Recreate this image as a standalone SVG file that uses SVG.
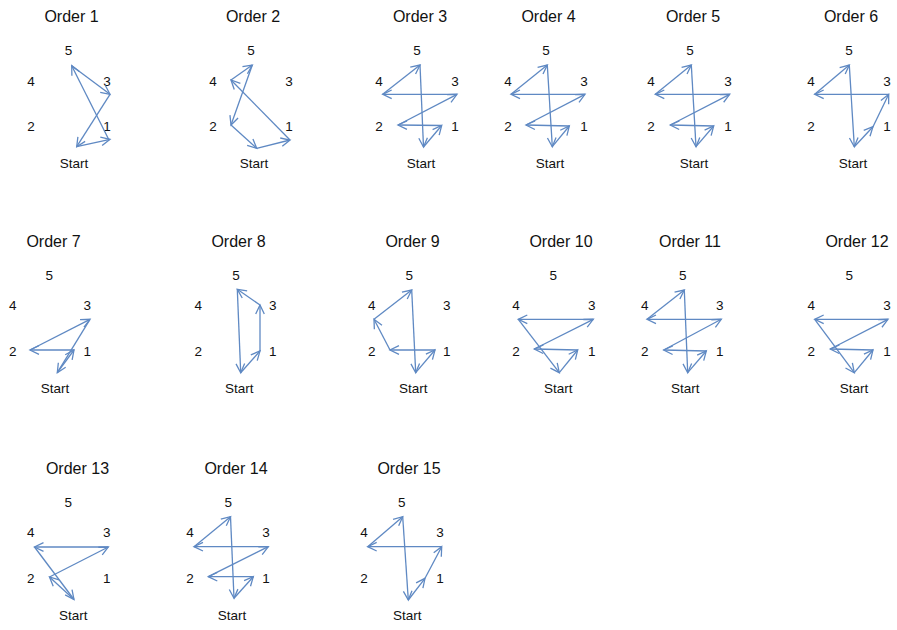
<svg xmlns="http://www.w3.org/2000/svg" width="897" height="630" viewBox="0 0 897 630">
<style>
text{font-family:"Liberation Sans",Arial,sans-serif;fill:#111}
.t{font-size:16px;text-anchor:middle}
.n{font-size:13.5px;text-anchor:middle}
.c line{stroke:#5f89c3;stroke-width:1.3;fill:none;marker-end:url(#ah)}
</style>
<defs>
<marker id="ah" viewBox="-11 -7 13 14" refX="0" refY="0" markerWidth="13" markerHeight="14" markerUnits="userSpaceOnUse" orient="auto">
<path d="M-9,-4.3 L0,0 L-9,4.3" fill="none" stroke="#5f89c3" stroke-width="1.3"/>
</marker>
</defs>
<rect width="897" height="630" fill="#fff"/>

<!-- Order 1 -->
<g id="order1">
<text class="t" x="71.5" y="22">Order 1</text>
<g id="o1-n5"><text class="n" x="68.5" y="55">5</text></g>
<g id="o1-n4"><text class="n" x="31" y="85.5">4</text></g>
<g id="o1-n3"><text class="n" x="107" y="85.5">3</text></g>
<g id="o1-n2"><text class="n" x="31" y="131">2</text></g>
<g id="o1-n1"><text class="n" x="107" y="131">1</text></g>
<g id="o1-start"><text class="n" x="74" y="168">Start</text></g>
</g>
<g id="order1-connectors" class="c">
<line x1="76.7" y1="146.7" x2="110" y2="139.3"/>
<line x1="109" y1="140" x2="71.7" y2="65.7"/>
<line x1="71.7" y1="65.7" x2="110" y2="94.3"/>
<line x1="110" y1="94.3" x2="76.7" y2="146.7"/>
</g>

<!-- Order 2 -->
<g id="order2">
<text class="t" x="253" y="22">Order 2</text>
<g id="o2-n5"><text class="n" x="251" y="55">5</text></g>
<g id="o2-n4"><text class="n" x="213" y="85.5">4</text></g>
<g id="o2-n3"><text class="n" x="289" y="85.5">3</text></g>
<g id="o2-n2"><text class="n" x="213" y="131">2</text></g>
<g id="o2-n1"><text class="n" x="289" y="131">1</text></g>
<g id="o2-start"><text class="n" x="254" y="168">Start</text></g>
</g>
<g id="order2-connectors" class="c">
<line x1="256.7" y1="148.3" x2="290" y2="140"/>
<line x1="290" y1="140" x2="231" y2="80"/>
<line x1="231" y1="80" x2="252.3" y2="65"/>
<line x1="252.3" y1="65" x2="231" y2="125"/>
<line x1="231" y1="125" x2="256.7" y2="148.3"/>
</g>

<!-- Order 3 -->
<g id="order3">
<text class="t" x="420" y="22">Order 3</text>
<g id="o3-n5"><text class="n" x="417" y="55">5</text></g>
<g id="o3-n4"><text class="n" x="379" y="85.5">4</text></g>
<g id="o3-n3"><text class="n" x="455" y="85.5">3</text></g>
<g id="o3-n2"><text class="n" x="379" y="131">2</text></g>
<g id="o3-n1"><text class="n" x="455" y="131">1</text></g>
<g id="o3-start"><text class="n" x="421" y="168">Start</text></g>
</g>
<g id="order3-connectors" class="c">
<line x1="423.5" y1="147" x2="441.7" y2="125.5"/>
<line x1="441.7" y1="125.5" x2="398" y2="125"/>
<line x1="398" y1="125" x2="457" y2="94.3"/>
<line x1="457" y1="94.3" x2="382.7" y2="94.3"/>
<line x1="382.7" y1="94.3" x2="420" y2="65"/>
<line x1="420" y1="65" x2="423.5" y2="147"/>
</g>

<!-- Order 4 -->
<g id="order4">
<text class="t" x="548.5" y="22">Order 4</text>
<g id="o4-n5"><text class="n" x="546" y="55">5</text></g>
<g id="o4-n4"><text class="n" x="508" y="85.5">4</text></g>
<g id="o4-n3"><text class="n" x="584" y="85.5">3</text></g>
<g id="o4-n2"><text class="n" x="508" y="131">2</text></g>
<g id="o4-n1"><text class="n" x="584" y="131">1</text></g>
<g id="o4-start"><text class="n" x="550" y="168">Start</text></g>
</g>
<g id="order4-connectors" class="c">
<line x1="552.3" y1="146.7" x2="569.3" y2="126"/>
<line x1="569.3" y1="126" x2="526" y2="125"/>
<line x1="526" y1="125" x2="585" y2="94.3"/>
<line x1="585" y1="94.3" x2="511" y2="94.3"/>
<line x1="511" y1="94.3" x2="547.3" y2="65"/>
<line x1="547.3" y1="65" x2="552.3" y2="146.7"/>
</g>

<!-- Order 5 -->
<g id="order5">
<text class="t" x="693" y="22">Order 5</text>
<g id="o5-n5"><text class="n" x="690" y="55">5</text></g>
<g id="o5-n4"><text class="n" x="651" y="85.5">4</text></g>
<g id="o5-n3"><text class="n" x="728" y="85.5">3</text></g>
<g id="o5-n2"><text class="n" x="651" y="131">2</text></g>
<g id="o5-n1"><text class="n" x="728" y="131">1</text></g>
<g id="o5-start"><text class="n" x="694" y="168">Start</text></g>
</g>
<g id="order5-connectors" class="c">
<line x1="696" y1="146.7" x2="713.7" y2="126"/>
<line x1="713.7" y1="126" x2="670.3" y2="125"/>
<line x1="670.3" y1="125" x2="729.7" y2="94.3"/>
<line x1="729.7" y1="94.3" x2="655.3" y2="94.3"/>
<line x1="655.3" y1="94.3" x2="691.3" y2="65"/>
<line x1="691.3" y1="65" x2="696" y2="146.7"/>
</g>

<!-- Order 6 -->
<g id="order6">
<text class="t" x="851" y="22">Order 6</text>
<g id="o6-n5"><text class="n" x="849" y="55">5</text></g>
<g id="o6-n4"><text class="n" x="811" y="85.5">4</text></g>
<g id="o6-n3"><text class="n" x="887" y="85.5">3</text></g>
<g id="o6-n2"><text class="n" x="811" y="131">2</text></g>
<g id="o6-n1"><text class="n" x="887" y="131">1</text></g>
<g id="o6-start"><text class="n" x="853" y="168">Start</text></g>
</g>
<g id="order6-connectors" class="c">
<line x1="854.3" y1="146.7" x2="873" y2="126.7"/>
<line x1="873" y1="126.7" x2="888.7" y2="94.3"/>
<line x1="888.7" y1="94.3" x2="814.7" y2="94.3"/>
<line x1="814.7" y1="94.3" x2="849.3" y2="65"/>
<line x1="849.3" y1="65" x2="854.3" y2="146.7"/>
</g>

<!-- Order 7 -->
<g id="order7">
<text class="t" x="53.5" y="246.5">Order 7</text>
<g id="o7-n5"><text class="n" x="49.3" y="279.5">5</text></g>
<g id="o7-n4"><text class="n" x="12.7" y="310">4</text></g>
<g id="o7-n3"><text class="n" x="87.3" y="310">3</text></g>
<g id="o7-n2"><text class="n" x="12.7" y="355.5">2</text></g>
<g id="o7-n1"><text class="n" x="87.3" y="355.5">1</text></g>
<g id="o7-start"><text class="n" x="55" y="392.5">Start</text></g>
</g>
<g id="order7-connectors" class="c">
<line x1="57.3" y1="372.7" x2="74" y2="350"/>
<line x1="74" y1="350" x2="30" y2="350"/>
<line x1="30" y1="350" x2="90" y2="319.3"/>
<line x1="90" y1="319.3" x2="57.3" y2="372.7"/>
</g>

<!-- Order 8 -->
<g id="order8">
<text class="t" x="238.5" y="246.5">Order 8</text>
<g id="o8-n5"><text class="n" x="236" y="279.5">5</text></g>
<g id="o8-n4"><text class="n" x="198.3" y="310">4</text></g>
<g id="o8-n3"><text class="n" x="272.7" y="310">3</text></g>
<g id="o8-n2"><text class="n" x="198.3" y="355.5">2</text></g>
<g id="o8-n1"><text class="n" x="272.7" y="355.5">1</text></g>
<g id="o8-start"><text class="n" x="239.3" y="392.5">Start</text></g>
</g>
<g id="order8-connectors" class="c">
<line x1="240.7" y1="372.7" x2="260" y2="351"/>
<line x1="260" y1="351" x2="260" y2="305"/>
<line x1="260" y1="305" x2="237.3" y2="289.3"/>
<line x1="237.3" y1="289.3" x2="240.7" y2="372.7"/>
</g>

<!-- Order 9 -->
<g id="order9">
<text class="t" x="412.5" y="246.5">Order 9</text>
<g id="o9-n5"><text class="n" x="409.3" y="279.5">5</text></g>
<g id="o9-n4"><text class="n" x="371.7" y="310">4</text></g>
<g id="o9-n3"><text class="n" x="446.7" y="310">3</text></g>
<g id="o9-n2"><text class="n" x="371.7" y="355.5">2</text></g>
<g id="o9-n1"><text class="n" x="446.7" y="355.5">1</text></g>
<g id="o9-start"><text class="n" x="413.3" y="392.5">Start</text></g>
</g>
<g id="order9-connectors" class="c">
<line x1="415.7" y1="372.7" x2="435" y2="350"/>
<line x1="435" y1="350" x2="390" y2="350"/>
<line x1="390" y1="350" x2="374" y2="319.3"/>
<line x1="374" y1="319.3" x2="411.7" y2="290"/>
<line x1="411.7" y1="290" x2="415.7" y2="372.7"/>
</g>

<!-- Order 10 -->
<g id="order10">
<text class="t" x="561" y="246.5">Order 10</text>
<g id="o10-n5"><text class="n" x="553.3" y="279.5">5</text></g>
<g id="o10-n4"><text class="n" x="516" y="310">4</text></g>
<g id="o10-n3"><text class="n" x="591.7" y="310">3</text></g>
<g id="o10-n2"><text class="n" x="516" y="355.5">2</text></g>
<g id="o10-n1"><text class="n" x="591.7" y="355.5">1</text></g>
<g id="o10-start"><text class="n" x="558.3" y="392.5">Start</text></g>
</g>
<g id="order10-connectors" class="c">
<line x1="559.3" y1="372.7" x2="577.7" y2="350"/>
<line x1="577.7" y1="350" x2="534.3" y2="349"/>
<line x1="534.3" y1="349" x2="593.3" y2="319.3"/>
<line x1="593.3" y1="319.3" x2="518.3" y2="319.3"/>
<line x1="518.3" y1="319.3" x2="559.3" y2="372.7"/>
</g>

<!-- Order 11 -->
<g id="order11">
<text class="t" x="690" y="246.5">Order 11</text>
<g id="o11-n5"><text class="n" x="682.7" y="279.5">5</text></g>
<g id="o11-n4"><text class="n" x="644.7" y="310">4</text></g>
<g id="o11-n3"><text class="n" x="719.7" y="310">3</text></g>
<g id="o11-n2"><text class="n" x="644.7" y="355.5">2</text></g>
<g id="o11-n1"><text class="n" x="719.7" y="355.5">1</text></g>
<g id="o11-start"><text class="n" x="685.3" y="392.5">Start</text></g>
</g>
<g id="order11-connectors" class="c">
<line x1="687.7" y1="372.7" x2="706.3" y2="351"/>
<line x1="706.3" y1="351" x2="663.7" y2="350"/>
<line x1="663.7" y1="350" x2="721.3" y2="319.3"/>
<line x1="721.3" y1="319.3" x2="647" y2="319.3"/>
<line x1="647" y1="319.3" x2="684.3" y2="290"/>
<line x1="684.3" y1="290" x2="687.7" y2="372.7"/>
</g>

<!-- Order 12 -->
<g id="order12">
<text class="t" x="857" y="246.5">Order 12</text>
<g id="o12-n5"><text class="n" x="849.3" y="279.5">5</text></g>
<g id="o12-n4"><text class="n" x="811.3" y="310">4</text></g>
<g id="o12-n3"><text class="n" x="887" y="310">3</text></g>
<g id="o12-n2"><text class="n" x="811.3" y="355.5">2</text></g>
<g id="o12-n1"><text class="n" x="887" y="355.5">1</text></g>
<g id="o12-start"><text class="n" x="854" y="392.5">Start</text></g>
</g>
<g id="order12-connectors" class="c">
<line x1="854.3" y1="372.7" x2="873" y2="350"/>
<line x1="873" y1="350" x2="830.3" y2="349"/>
<line x1="830.3" y1="349" x2="888" y2="319.3"/>
<line x1="888" y1="319.3" x2="814.7" y2="319.3"/>
<line x1="814.7" y1="319.3" x2="854.3" y2="372.7"/>
</g>

<!-- Order 13 -->
<g id="order13">
<text class="t" x="77.5" y="473.5">Order 13</text>
<g id="o13-n5"><text class="n" x="68.3" y="506.5">5</text></g>
<g id="o13-n4"><text class="n" x="30.7" y="537">4</text></g>
<g id="o13-n3"><text class="n" x="106.7" y="537">3</text></g>
<g id="o13-n2"><text class="n" x="30.7" y="582.5">2</text></g>
<g id="o13-n1"><text class="n" x="106.7" y="582.5">1</text></g>
<g id="o13-start"><text class="n" x="73.3" y="619.5">Start</text></g>
</g>
<g id="order13-connectors" class="c">
<line x1="74" y1="599.5" x2="49.5" y2="577"/>
<line x1="49.5" y1="577" x2="108.3" y2="547"/>
<line x1="108.3" y1="547" x2="34.5" y2="547"/>
<line x1="34.5" y1="547" x2="74" y2="599.5"/>
</g>

<!-- Order 14 -->
<g id="order14">
<text class="t" x="236" y="473.5">Order 14</text>
<g id="o14-n5"><text class="n" x="228.3" y="506.5">5</text></g>
<g id="o14-n4"><text class="n" x="190" y="537">4</text></g>
<g id="o14-n3"><text class="n" x="266" y="537">3</text></g>
<g id="o14-n2"><text class="n" x="190" y="582.5">2</text></g>
<g id="o14-n1"><text class="n" x="266" y="582.5">1</text></g>
<g id="o14-start"><text class="n" x="232" y="619.5">Start</text></g>
</g>
<g id="order14-connectors" class="c">
<line x1="234" y1="598.3" x2="253.3" y2="576.7"/>
<line x1="253.3" y1="576.7" x2="208.3" y2="576.7"/>
<line x1="208.3" y1="576.7" x2="268.3" y2="546.7"/>
<line x1="268.3" y1="546.7" x2="194" y2="546.7"/>
<line x1="194" y1="546.7" x2="230.5" y2="516.7"/>
<line x1="230.5" y1="516.7" x2="234" y2="598.3"/>
</g>

<!-- Order 15 -->
<g id="order15">
<text class="t" x="409" y="473.5">Order 15</text>
<g id="o15-n5"><text class="n" x="401.7" y="506.5">5</text></g>
<g id="o15-n4"><text class="n" x="364" y="537">4</text></g>
<g id="o15-n3"><text class="n" x="440" y="537">3</text></g>
<g id="o15-n2"><text class="n" x="364" y="582.5">2</text></g>
<g id="o15-n1"><text class="n" x="440" y="582.5">1</text></g>
<g id="o15-start"><text class="n" x="407.3" y="619.5">Start</text></g>
</g>
<g id="order15-connectors" class="c">
<line x1="408.3" y1="600" x2="425" y2="578.3"/>
<line x1="425" y1="578.3" x2="441.7" y2="546.7"/>
<line x1="441.7" y1="546.7" x2="367.7" y2="546.7"/>
<line x1="367.7" y1="546.7" x2="402.7" y2="516.7"/>
<line x1="402.7" y1="516.7" x2="408.3" y2="600"/>
</g>
</svg>
